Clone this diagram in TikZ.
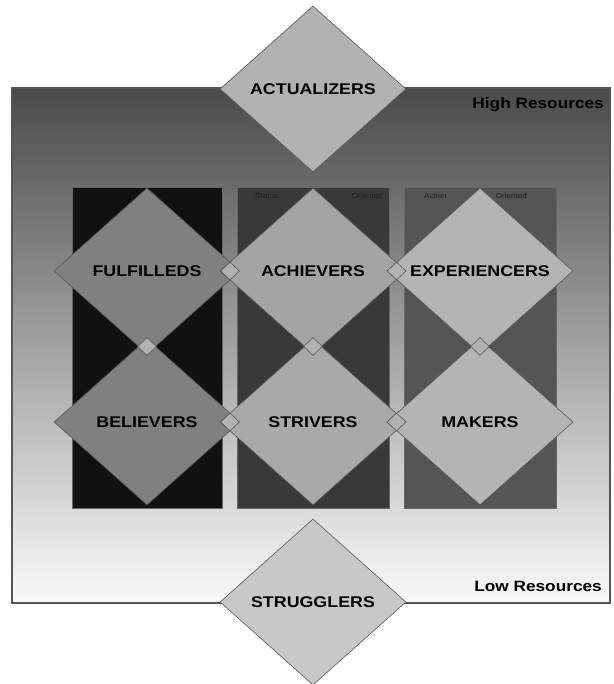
\documentclass[tikz,border=0pt]{standalone}
\usepackage{fontspec}
\setmainfont{Liberation Sans}[FakeStretch=1.15]
\usetikzlibrary{shapes.geometric,calc}
\definecolor{rimgray}{HTML}{555555}
\definecolor{topgray}{HTML}{4A4A4A}
\definecolor{botgray}{HTML}{FAFAFA}
\definecolor{colA}{HTML}{111111}
\definecolor{colB}{HTML}{393939}
\definecolor{colC}{HTML}{555555}
\definecolor{dA}{HTML}{B2B2B2}
\definecolor{dF}{HTML}{808080}
\definecolor{dM}{HTML}{A4A4A4}
\definecolor{dE}{HTML}{B4B4B4}
\definecolor{dS}{HTML}{C8C8C8}
\definecolor{hdr}{HTML}{1A1A1A}
\tikzset{
  seg/.style={shape=diamond, draw=rimgray, line width=0.6pt, inner sep=0pt,
    minimum width=186pt, minimum height=166pt,
    font=\fontsize{15.5}{17}\selectfont\bfseries, text=black},
  joint/.style={shape=diamond, draw=rimgray, line width=0.6pt, inner sep=0pt,
    minimum width=19pt, minimum height=18pt, fill=dM!85!white},
  column/.style={draw=black!60, line width=0.4pt},
  hdrtext/.style={font=\fontsize{7}{8}\selectfont, text=hdr, inner sep=0pt},
  reslabel/.style={font=\fontsize{15}{17}\selectfont\bfseries, text=black, inner sep=0pt}
}
\begin{document}
\begin{tikzpicture}[x=1pt,y=-1pt]
\useasboundingbox (0,0) rectangle (613,684);
\fill[white] (0,0) rectangle (613,684);
% outer resource panel
\node[draw=rimgray, line width=1.6pt, top color=topgray, bottom color=botgray,
  inner sep=0pt, minimum width=598pt, minimum height=515pt] (panel) at (311,345.5) {};
% columns
\node[column, fill=colA, inner sep=0pt, minimum width=150pt, minimum height=321pt] (c1) at (147,347.5) {};
\node[column, fill=colB, inner sep=0pt, minimum width=152pt, minimum height=321pt] (c2) at (313,347.5) {};
\node[column, fill=colC, inner sep=0pt, minimum width=152pt, minimum height=321pt] (c3) at (480,347.5) {};
\node[hdrtext, anchor=west] (h2a) at (255,196) {Status};
\node[hdrtext, anchor=east] (h2b) at (383,196) {Oriented};
\node[hdrtext, anchor=west] (h3a) at (424,196) {Action};
\node[hdrtext, anchor=east] (h3b) at (527,196) {Oriented};
% resource labels
\node[reslabel, anchor=east] (high) at (604,105) {High Resources};
\node[reslabel, anchor=east] (low) at (602,586) {Low Resources};
% segments
\node[seg, fill=dA] (act) at (313,89) {ACTUALIZERS};
\node[seg, fill=dF] (ful) at (147,271) {FULFILLEDS};
\node[seg, fill=dM] (ach) at (313,271) {ACHIEVERS};
\node[seg, fill=dE] (exp) at (480,271) {EXPERIENCERS};
\node[seg, fill=dF] (bel) at (147,422) {BELIEVERS};
\node[seg, fill=dM!95!white] (str) at (313,422) {STRIVERS};
\node[seg, fill=dE] (mak) at (480,422) {MAKERS};
\node[seg, fill=dS] (strg) at (313,602) {STRUGGLERS};
% joints
\node[joint] (j1) at ($(ful.east)!0.5!(ach.west)$) {};
\node[joint] (j2) at ($(ach.east)!0.5!(exp.west)$) {};
\node[joint] (j3) at ($(ful.south)!0.5!(bel.north)$) {};
\node[joint] (j4) at ($(ach.south)!0.5!(str.north)$) {};
\node[joint] (j5) at ($(exp.south)!0.5!(mak.north)$) {};
\node[joint] (j6) at ($(bel.east)!0.5!(str.west)$) {};
\node[joint] (j7) at ($(str.east)!0.5!(mak.west)$) {};
\end{tikzpicture}
\end{document}
